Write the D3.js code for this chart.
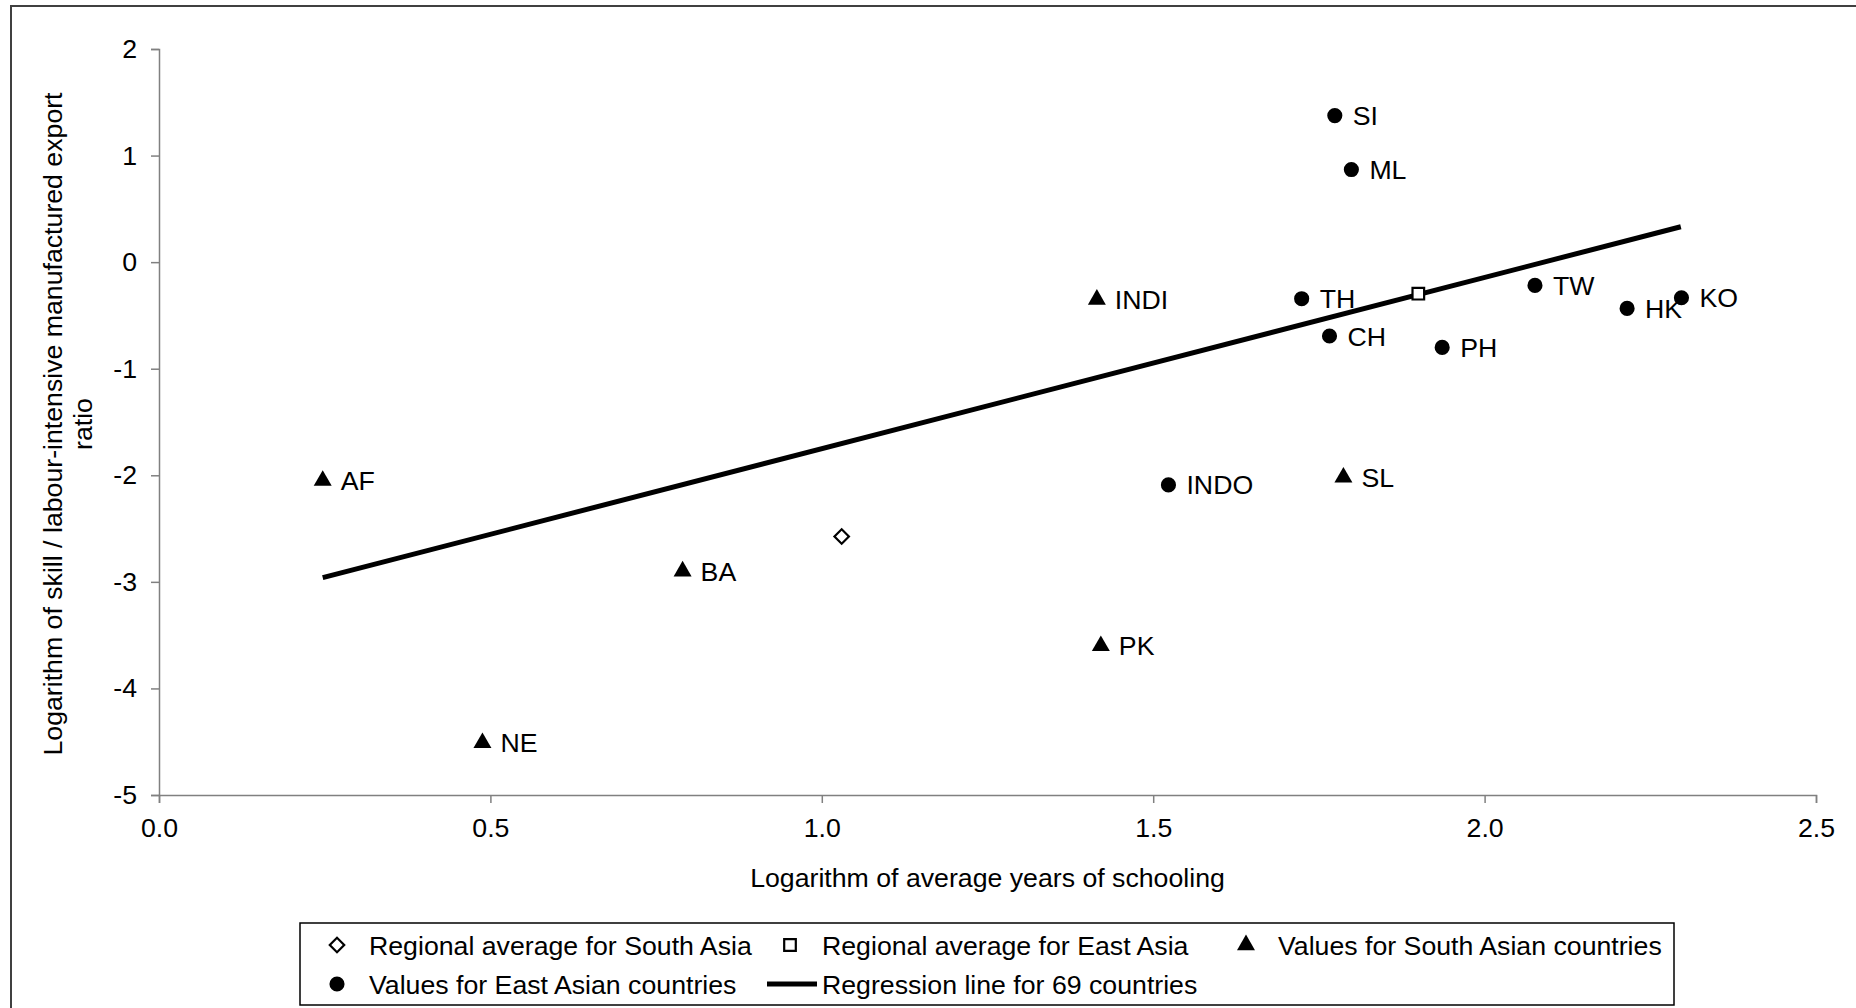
<!DOCTYPE html>
<html>
<head>
<meta charset="utf-8">
<script src="https://cdn.jsdelivr.net/npm/d3@7"></script>
<style>
  body { margin: 0; background: #fff; }
  svg { display: block; font-family: "Liberation Sans", Arial, sans-serif; }
</style>
</head>
<body>
<svg class="js-chart"></svg>
<script>
/* global d3 */
// South Asian countries (triangles)
var southLabels = ["AF", "BA", "NE", "PK", "INDI", "SL"];
var southX = [0.247, 0.790, 0.488, 1.421, 1.415, 1.787];
var southY = [-2.05, -2.90, -4.51, -3.60, -0.35, -2.02];

// East Asian countries (circles)
var eastLabels = ["SI", "ML", "TH", "CH", "PH", "INDO", "TW", "HK", "KO"];
var eastX = [1.774, 1.799, 1.724, 1.766, 1.936, 1.523, 2.076, 2.215, 2.297];
var eastY = [1.375, 0.869, -0.343, -0.693, -0.80, -2.09, -0.218, -0.434, -0.334];

// regional averages
var southAvg = [1.03, -2.575];
var eastAvg = [1.900, -0.296];

// regression line for 69 countries (end points)
var regX = [0.247, 2.296];
var regY = [-2.96, 0.332];

var xTicks = [0, 0.5, 1.0, 1.5, 2.0, 2.5];
var yTicks = [-5, -4, -3, -2, -1, 0, 1, 2];

var legendItems = [
    { sym: "diamond", text: "Regional average for South Asia" },
    { sym: "square", text: "Regional average for East Asia" },
    { sym: "triangle", text: "Values for South Asian countries" },
    { sym: "circle", text: "Values for East Asian countries" },
    { sym: "line", text: "Regression line for 69 countries" }
];

var W = 1856, H = 1008;
var fontSize = 26.7;
var axisColor = "#808080";

var svg = d3.select(".js-chart").attr("width", W).attr("height", H);

// outer frame (runs off right and bottom edge like the source)
svg.append("rect")
    .attr("x", 11).attr("y", 6)
    .attr("width", W + 20).attr("height", H + 20)
    .attr("fill", "none")
    .attr("stroke", "#404040")
    .attr("stroke-width", 2);

var x = d3.scaleLinear().domain([0, 2.5]).range([159, 1816]);
var y = d3.scaleLinear().domain([-5, 2]).range([795, 49]);

var symbols = {
    triangle: d3.symbol().type(d3.symbolTriangle).size(140),
    circle: d3.symbol().type(d3.symbolCircle).size(180),
    diamond: d3.symbol().type(d3.symbolSquare).size(105),
    square: d3.symbol().type(d3.symbolSquare).size(135)
};

function drawSymbol(g, kind, cx, cy) {
    var p = g.append("path")
        .attr("d", symbols[kind]())
        .attr("transform", "translate(" + cx + "," + cy + ")" + (kind === "diamond" ? " rotate(45)" : ""));
    if (kind === "diamond" || kind === "square") {
        p.attr("fill", "#fff").attr("stroke", "#000").attr("stroke-width", 2.2);
    } else {
        p.attr("fill", "#000");
    }
    return p;
}

// axes
var xAxis = d3.axisBottom(x).tickValues(xTicks).tickFormat(d3.format(".1f")).tickSize(8).tickPadding(15);
var yAxis = d3.axisLeft(y).tickValues(yTicks).tickFormat(function (d) { return String(d); }).tickSize(8).tickPadding(14);

var gx = svg.append("g").attr("transform", "translate(0," + y(-5) + ")").call(xAxis);
var gy = svg.append("g").attr("transform", "translate(" + x(0) + ",0)").call(yAxis);

[gx, gy].forEach(function (g) {
    g.select(".domain").attr("stroke", axisColor).attr("stroke-width", 1.5);
    g.selectAll(".tick line").attr("stroke", axisColor).attr("stroke-width", 1.5);
    g.selectAll(".tick text")
        .attr("fill", "#000")
        .style("font-size", fontSize + "px")
        .style("font-family", "'Liberation Sans', Arial, sans-serif");
});

// axis titles
svg.append("text")
    .attr("x", (x(0) + x(2.5)) / 2)
    .attr("y", 887)
    .attr("text-anchor", "middle")
    .style("font-size", fontSize + "px")
    .text("Logarithm of average years of schooling");

var yTitle = svg.append("text")
    .attr("transform", "translate(62,424) rotate(-90)")
    .attr("text-anchor", "middle")
    .style("font-size", fontSize + "px");
yTitle.append("tspan").attr("x", 0).attr("y", 0)
    .text("Logarithm of skill / labour-intensive manufactured export");
yTitle.append("tspan").attr("x", 0).attr("y", 30).text("ratio");

// regression line
var line = d3.line()
    .x(function (d) { return x(d[0]); })
    .y(function (d) { return y(d[1]); });

svg.append("path")
    .datum(d3.zip(regX, regY))
    .attr("d", line)
    .attr("fill", "none")
    .attr("stroke", "#000")
    .attr("stroke-width", 5);

var pts = svg.append("g");

// averages
drawSymbol(pts, "diamond", x(southAvg[0]), y(southAvg[1]));
drawSymbol(pts, "square", x(eastAvg[0]), y(eastAvg[1]));

function drawSeries(labels, xs, ys, kind) {
    labels.forEach(function (lab, i) {
        var cx = x(xs[i]), cy = y(ys[i]);
        drawSymbol(pts, kind, cx, cy);
        pts.append("text")
            .attr("x", cx + 18)
            .attr("y", cy)
            .attr("dy", "0.36em")
            .style("font-size", fontSize + "px")
            .text(lab);
    });
}

drawSeries(southLabels, southX, southY, "triangle");
drawSeries(eastLabels, eastX, eastY, "circle");

// legend
var legend = svg.append("g");
legend.append("rect")
    .attr("x", 300).attr("y", 923)
    .attr("width", 1374).attr("height", 82)
    .attr("fill", "#fff")
    .attr("stroke", "#000")
    .attr("stroke-width", 1.5);

var legendPos = [[337, 945], [790, 945], [1246, 945], [337, 984], [790, 984]];

legendItems.forEach(function (item, i) {
    var px = legendPos[i][0], py = legendPos[i][1];
    if (item.sym === "line") {
        legend.append("line")
            .attr("x1", px - 23).attr("x2", px + 27)
            .attr("y1", py).attr("y2", py)
            .attr("stroke", "#000").attr("stroke-width", 5);
    } else {
        drawSymbol(legend, item.sym, px, py);
    }
    legend.append("text")
        .attr("x", px + 32)
        .attr("y", py)
        .attr("dy", "0.36em")
        .style("font-size", fontSize + "px")
        .text(item.text);
});
</script>
</body>
</html>
